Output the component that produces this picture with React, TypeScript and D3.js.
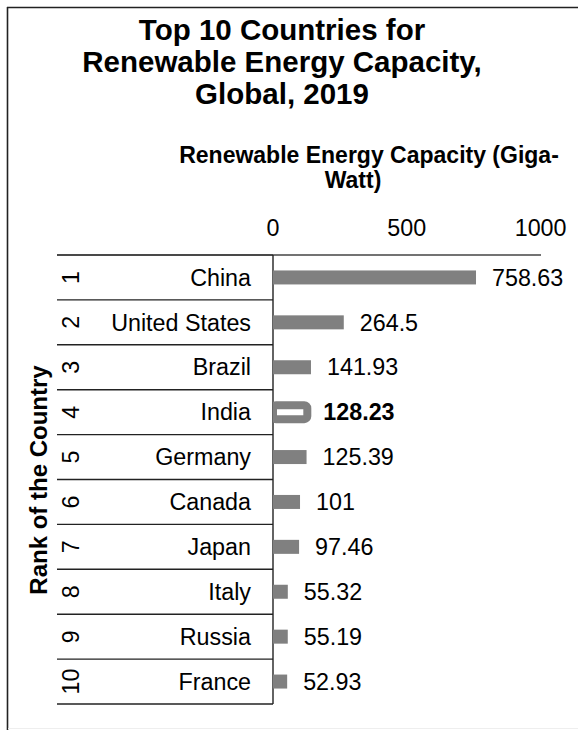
import React from "react";
import * as d3 from "d3";

const ranks = ["1", "2", "3", "4", "5", "6", "7", "8", "9", "10"];
const countries = ["China", "United States", "Brazil", "India", "Germany", "Canada", "Japan", "Italy", "Russia", "France"];
const capacities = [758.63, 264.5, 141.93, 128.23, 125.39, 101, 97.46, 55.32, 55.19, 52.93];
const xTicks = [0, 500, 1000];
const highlighted = "India";
const titleLines = ["Top 10 Countries for", "Renewable Energy Capacity,", "Global, 2019"];
const xTitleLines = ["Renewable Energy Capacity (Giga-", "Watt)"];
const yTitle = "Rank of the Country";

const W = 578;
const H = 730;
const FONT = "'Liberation Sans', Arial, Helvetica, sans-serif";
const FS = 23.3;

export default function App() {
  const x = d3.scaleLinear().domain([0, 1000]).range([273, 540.6]);
  const y = d3.scaleBand<string>().domain(ranks).range([255, 704]).paddingInner(0).paddingOuter(0);
  const barH = 14;
  const rows = ranks.map((r, i) => ({ rank: r, country: countries[i], value: capacities[i] }));
  const bounds = d3.range(ranks.length + 1).map((i) => 255 + i * y.step());

  return (
    <svg
      width={W}
      height={H}
      style={{ position: "absolute", left: 0, top: 0, display: "block", background: "#fff" }}
      fontFamily={FONT}
    >
      <defs>
        <clipPath id="plotClip">
          <rect x={273} y={250} width={300} height={460} />
        </clipPath>
      </defs>
      {/* frame */}
      <line x1={7.5} y1={7} x2={7.5} y2={730} stroke="#222" strokeWidth={1.6} />
      <line x1={7} y1={7.5} x2={578} y2={7.5} stroke="#222" strokeWidth={1.6} />
      <line x1={8} y1={728.5} x2={578} y2={728.5} stroke="#eeeeee" strokeWidth={1} />

      {/* title */}
      {titleLines.map((t, i) => (
        <text key={t} x={282} y={40 + i * 32} textAnchor="middle" fontSize={29.5} fontWeight="bold" fill="#000">
          {t}
        </text>
      ))}

      {/* x axis title */}
      {xTitleLines.map((t, i) => (
        <text key={t} x={i === 0 ? 369 : 353} y={163 + i * 25} textAnchor="middle" fontSize={23} fontWeight="bold" fill="#000">
          {t}
        </text>
      ))}

      {/* tick labels */}
      {xTicks.map((t) => (
        <text key={t} x={x(t)} y={236} textAnchor="middle" fontSize={FS} fill="#000">
          {t}
        </text>
      ))}

      {/* row lines */}
      {bounds.map((b, i) => (
        <line key={i} x1={57} y1={b} x2={273} y2={b} stroke="#222" strokeWidth={1.4} />
      ))}
      <line x1={57} y1={255} x2={541} y2={255} stroke="#444" strokeWidth={1.5} />
      <line x1={273} y1={255} x2={273} y2={704} stroke="#222" strokeWidth={1.4} />

      {/* bars */}
      <g clipPath="url(#plotClip)">
        {rows.map((d) => {
          const cy = (y(d.rank) as number) + y.bandwidth() / 2;
          const hi = d.country === highlighted;
          return (
            <rect
              key={d.rank}
              x={x(0)}
              y={cy - barH / 2}
              width={x(d.value) - x(0)}
              height={barH}
              fill={hi ? "#fff" : "#808080"}
              stroke={hi ? "#808080" : "none"}
              strokeWidth={hi ? 8 : 0}
              rx={hi ? 3 : 0}
            />
          );
        })}
      </g>

      {/* value labels */}
      {rows.map((d) => {
        const cy = (y(d.rank) as number) + y.bandwidth() / 2;
        const hi = d.country === highlighted;
        return (
          <text key={d.rank} x={x(d.value) + 16} y={cy} dy="0.35em" fontSize={FS} fontWeight={hi ? "bold" : "normal"} fill="#000">
            {String(d.value)}
          </text>
        );
      })}

      {/* category labels */}
      {rows.map((d) => {
        const cy = (y(d.rank) as number) + y.bandwidth() / 2;
        return (
          <g key={d.rank}>
            <text x={251} y={cy} dy="0.35em" textAnchor="end" fontSize={FS} fill="#000">
              {d.country}
            </text>
            <text
              transform={`translate(70.5,${cy}) rotate(-90)`}
              textAnchor="middle"
              dy="0.35em"
              fontSize={FS}
              fill="#000"
            >
              {d.rank}
            </text>
          </g>
        );
      })}

      {/* y axis title */}
      <text transform={`translate(39,480) rotate(-90)`} textAnchor="middle" dy="0.35em" fontSize={24} fontWeight="bold" fill="#000">
        {yTitle}
      </text>
    </svg>
  );
}
